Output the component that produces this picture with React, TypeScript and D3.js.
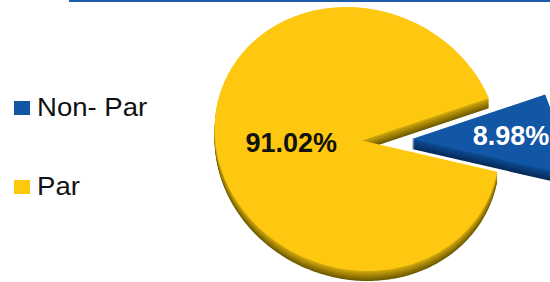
import React from "react";
import * as d3 from "d3";

const categories = ["Non- Par", "Par"];
const values = [8.98, 91.02];
const labels = ["8.98%", "91.02%"];
const topColors = ["#1257A6", "#FDC80F"];
const wallTopColors = ["#0E4A90", "#CDA50C"];
const wallBottomColors = ["#062B5A", "#6E5A00"];
const explodes = [50, 0];
const sliceScale = [1.05, 1];
const labelRadius = [0.69, 0.483];
const labelColors = ["#FFFFFF", "#111111"];

export default function App() {
  const W = 550, H = 282;
  const cx = 357, cy = 139, rx = 142, ry = 132, depth = 10, skew = 0.08;
  const hub: [number, number] = [362, 140.5];
  const start = (72 * Math.PI) / 180;
  const pie = d3.pie<number>().sort(null).startAngle(start).endAngle(start + 2 * Math.PI);
  const arcs = pie(values);
  const line = d3.line<[number, number]>();

  const rim = (a: number): [number, number] => {
    const y = -ry * Math.cos(a);
    return [cx + rx * Math.sin(a) + skew * y, cy + y];
  };

  const toSlice = (p: [number, number], i: number, mid: number, z: number): [number, number] => {
    const ox = explodes[i] * Math.sin(mid);
    const oy = -explodes[i] * 0.93 * Math.cos(mid);
    const s = sliceScale[i];
    return [hub[0] + ox + s * (p[0] - hub[0]), hub[1] + oy + s * (p[1] - hub[1]) + z];
  };

  const sector = (i: number, a0: number, a1: number, mid: number, z: number) => {
    const pts: [number, number][] = [toSlice(hub, i, mid, z)];
    const n = Math.max(2, Math.ceil(((a1 - a0) * 180) / Math.PI));
    for (let k = 0; k <= n; k++) pts.push(toSlice(rim(a0 + ((a1 - a0) * k) / n), i, mid, z));
    return line(pts) + "Z";
  };

  const order = [1, 0];
  const drawn = order.map((i) => {
    const a = arcs[i];
    const mid = (a.startAngle + a.endAngle) / 2;
    const interp = d3.interpolateRgb(wallBottomColors[i], wallTopColors[i]);
    const layers = d3.range(depth, 0, -1).map((z) => (
      <path key={"l" + z} d={sector(i, a.startAngle, a.endAngle, mid, z)} fill={interp((depth - z) / (depth - 1))} />
    ));
    const r = rim(mid);
    const lp = toSlice(
      [hub[0] + labelRadius[i] * (r[0] - hub[0]), hub[1] + labelRadius[i] * (r[1] - hub[1])],
      i, mid, 0
    );
    return (
      <g key={categories[i]}>
        {layers}
        <path d={sector(i, a.startAngle, a.endAngle, mid, 0)} fill={topColors[i]} />
        <text x={lp[0]} y={lp[1]} dy="0.38em" textAnchor="middle" fontFamily="'Liberation Sans', Arial, sans-serif" fontWeight="bold" fontSize={27} fill={labelColors[i]}>
          {labels[i]}
        </text>
      </g>
    );
  });

  const legendY = [108, 187];

  return (
    <svg width={W} height={H} style={{ position: "absolute", left: 0, top: 0 }} xmlns="http://www.w3.org/2000/svg">
      <rect width={W} height={H} fill="#ffffff" />
      <line x1={69} x2={W} y1={1} y2={1} stroke="#1F5DAB" strokeWidth={2} />
      {drawn}
      {categories.map((c, i) => (
        <g key={"lg" + c}>
          <rect x={14} y={legendY[i] - 7} width={16} height={14} fill={topColors[i]} />
          <text transform={`translate(37,${legendY[i]}) scale(1.06,1)`} dy="0.3em" fontFamily="'Liberation Sans', Arial, sans-serif" fontSize={26} fill="#111111">
            {c}
          </text>
        </g>
      ))}
    </svg>
  );
}
